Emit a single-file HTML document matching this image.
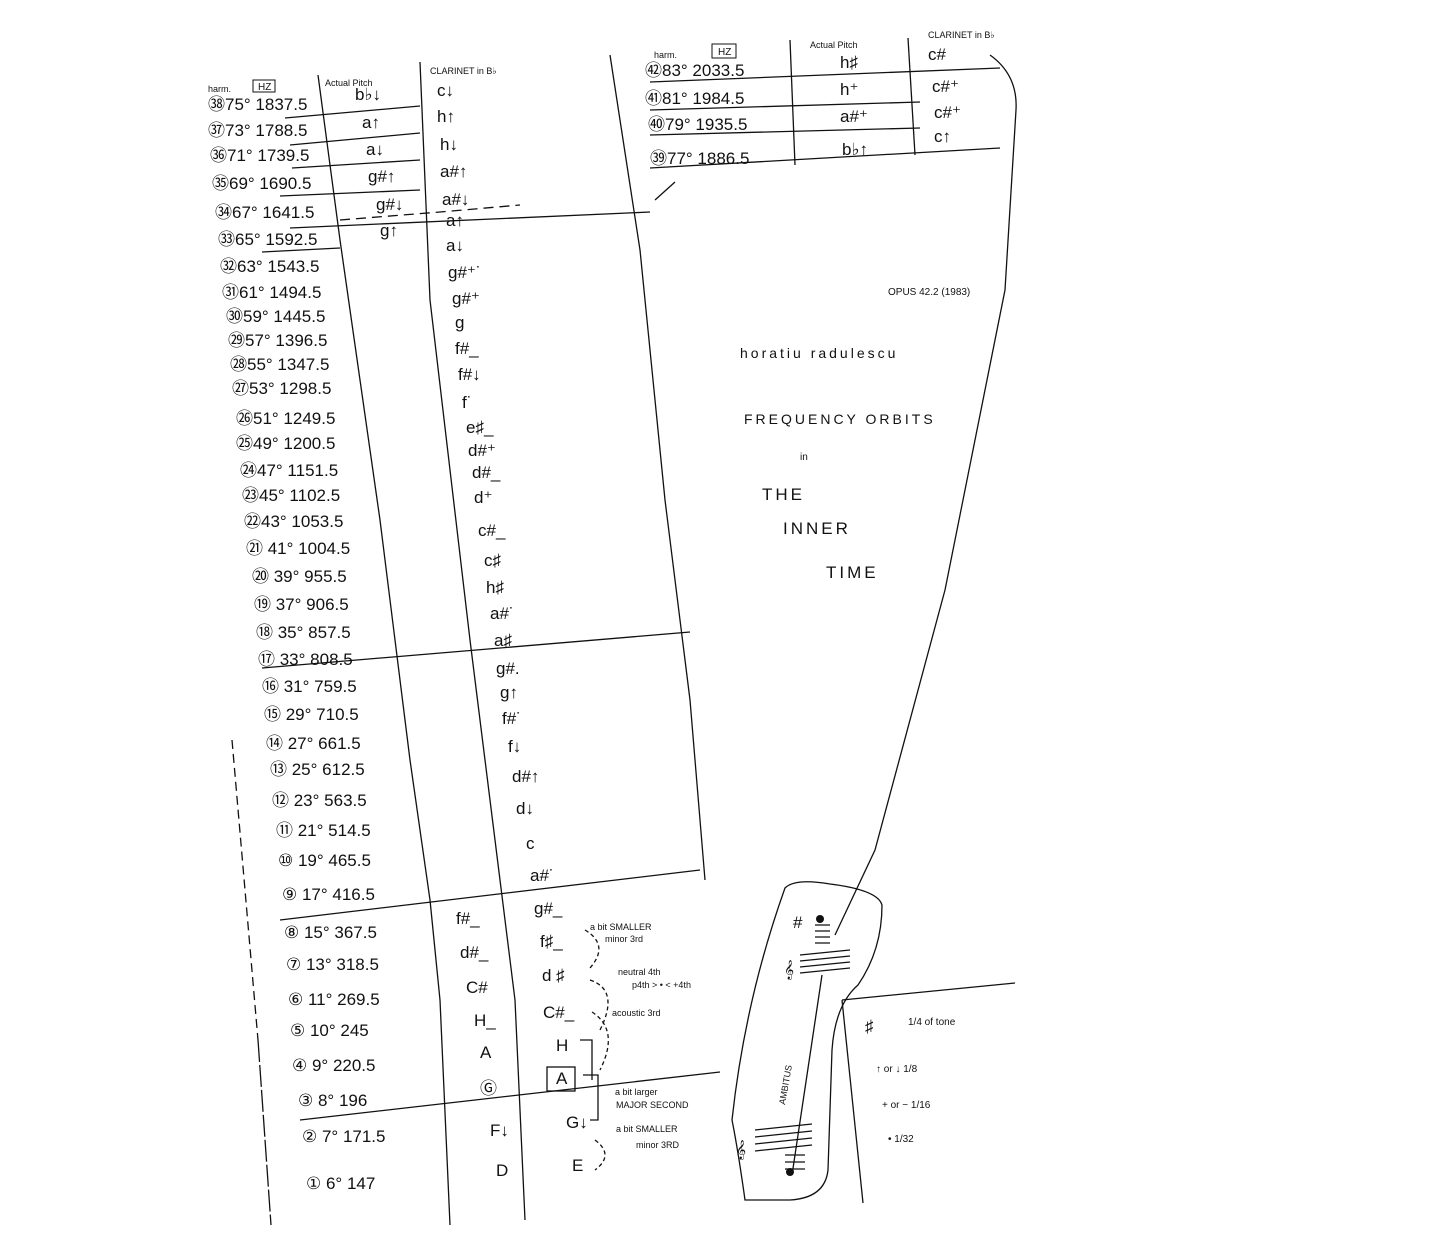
<!DOCTYPE html>
<html><head><meta charset="utf-8"><style>
html,body{margin:0;padding:0;background:#fff}
svg{display:block}
text{font-family:"Liberation Sans",sans-serif;fill:#111}
.n{font-size:17px}
.s{font-size:10px}
.h{font-size:9px}
.t{font-size:17px;letter-spacing:3px}
</style></head><body>
<svg width="1440" height="1252" viewBox="0 0 1440 1252" xmlns="http://www.w3.org/2000/svg">
<g fill="none" stroke="#111" stroke-width="1.3">
<!-- left outer dashed line -->
<path d="M232 740 L258 1040" stroke-dasharray="9,5"/>
<path d="M258 1040 L271 1225" stroke-dasharray="22,3"/>
<path d="M318 75 L340 240 L380 520 L410 760 L430 900 L440 1000 L450 1225"/>
<path d="M420 62 L430 300 L470 640 L500 880 L515 1000 L525 1220"/>
<path d="M610 55 L640 250 L665 500 L690 700 L705 880"/>
<!-- row lines top -->
<path d="M285 118 L420 106"/><path d="M290 145 L420 133"/><path d="M292 168 L420 160"/>
<path d="M280 196 L420 190"/><path d="M340 220 L440 212 L520 205" stroke-dasharray="10,6"/>
<path d="M290 228 L650 212"/><path d="M262 252 L340 248"/>
<path d="M262 668 L690 632"/><path d="M280 920 L700 870"/>
<path d="M300 1120 L720 1072"/>
<!-- right top table -->
<path d="M650 82 L1000 68"/><path d="M650 110 L920 102"/><path d="M650 135 L920 128"/><path d="M650 168 L1000 148"/>
<path d="M790 40 L795 165"/><path d="M908 38 L915 155"/>
<path d="M655 200 L675 182"/>
<path d="M990 55 Q1018 75 1016 110 L1005 290 L945 590 L875 850 L835 935"/>
<!-- dashed connectors -->
<path d="M585 930 Q610 945 590 968" stroke-dasharray="4,3"/>
<path d="M590 980 Q620 990 600 1030" stroke-dasharray="4,3"/>
<path d="M592 1012 Q620 1030 600 1070" stroke-dasharray="4,3"/>
<path d="M595 1140 Q615 1155 595 1170" stroke-dasharray="4,3"/>
<rect x="547" y="1067" width="28" height="24"/>
<path d="M580 1040 L592 1040 L592 1080"/><path d="M583 1075 L598 1075 L598 1120 L590 1120"/>
<!-- ambitus shape -->
<path d="M785 888 Q795 878 830 884 Q878 890 882 905 Q882 950 858 985 Q835 1005 832 1050 Q830 1110 828 1170 Q825 1198 790 1200 L745 1200 Q738 1150 732 1120 Q745 1000 785 888 Z"/>
<path d="M800 955 L850 950 M800 961 L850 956 M800 967 L850 962 M800 973 L850 968"/>
<path d="M755 1130 L812 1124 M755 1137 L812 1131 M755 1144 L812 1138 M755 1151 L812 1145"/>
<path d="M822 975 L792 1175"/>
<path d="M815 925 L830 925 M815 931 L830 931 M815 937 L830 937 M815 943 L830 943"/>
<path d="M785 1155 L805 1155 M785 1162 L805 1162 M785 1169 L805 1169"/>
<!-- legend box -->
<path d="M842 1000 L1015 983 M842 1000 L863 1203"/>
</g>
<g>
<text x="208" y="92" class="h">harm.</text><text x="258" y="90" class="s">HZ</text><rect x="253" y="80" width="22" height="12" fill="none" stroke="#111"/>
<text x="325" y="86" class="h">Actual Pitch</text><text x="430" y="74" class="h">CLARINET in B♭</text>
<text x="654" y="58" class="h">harm.</text><text x="718" y="55" class="s">HZ</text><rect x="712" y="44" width="24" height="14" fill="none" stroke="#111"/>
<text x="810" y="48" class="h">Actual Pitch</text><text x="928" y="38" class="h">CLARINET in B♭</text>
</g>
<g class="n">
<text x="208" y="110">㊳75° 1837.5</text><text x="355" y="100">b♭↓</text><text x="437" y="96">c↓</text>
<text x="208" y="136">㊲73° 1788.5</text><text x="362" y="128">a↑</text><text x="437" y="122">h↑</text>
<text x="210" y="161">㊱71° 1739.5</text><text x="366" y="155">a↓</text><text x="440" y="150">h↓</text>
<text x="212" y="189">㉟69° 1690.5</text><text x="368" y="182">g#↑</text><text x="440" y="177">a#↑</text>
<text x="215" y="218">㉞67° 1641.5</text><text x="376" y="210">g#↓</text><text x="442" y="205">a#↓</text>
<text x="218" y="245">㉝65° 1592.5</text><text x="380" y="236">g↑</text><text x="446" y="226">a↑</text>
<text x="220" y="272">㉜63° 1543.5</text><text x="446" y="251">a↓</text>
<text x="222" y="298">㉛61° 1494.5</text><text x="448" y="278">g#⁺˙</text>
<text x="226" y="322">㉚59° 1445.5</text><text x="452" y="304">g#⁺</text>
<text x="228" y="346">㉙57° 1396.5</text><text x="455" y="328">g</text>
<text x="230" y="370">㉘55° 1347.5</text><text x="455" y="354">f#_</text>
<text x="232" y="394">㉗53° 1298.5</text><text x="458" y="380">f#↓</text>
<text x="236" y="424">㉖51° 1249.5</text><text x="462" y="408">f˙</text>
<text x="236" y="449">㉕49° 1200.5</text><text x="466" y="433">e♯_</text>
<text x="240" y="476">㉔47° 1151.5</text><text x="468" y="456">d#⁺</text>
<text x="242" y="501">㉓45° 1102.5</text><text x="472" y="478">d#_</text>
<text x="244" y="527">㉒43° 1053.5</text><text x="474" y="503">d⁺</text>
<text x="246" y="554">㉑ 41° 1004.5</text><text x="478" y="536">c#_</text>
<text x="252" y="582">⑳ 39° 955.5</text><text x="484" y="566">c♯</text>
<text x="254" y="610">⑲ 37° 906.5</text><text x="486" y="593">h♯</text>
<text x="256" y="638">⑱ 35° 857.5</text><text x="490" y="619">a#˙</text>
<text x="258" y="665">⑰ 33° 808.5</text><text x="494" y="646">a♯</text>
<text x="262" y="692">⑯ 31° 759.5</text><text x="496" y="674">g#.</text>
<text x="264" y="720">⑮ 29° 710.5</text><text x="500" y="698">g↑</text>
<text x="266" y="749">⑭ 27° 661.5</text><text x="502" y="724">f#˙</text>
<text x="270" y="775">⑬ 25° 612.5</text><text x="508" y="752">f↓</text>
<text x="272" y="806">⑫ 23° 563.5</text><text x="512" y="782">d#↑</text>
<text x="276" y="836">⑪ 21° 514.5</text><text x="516" y="814">d↓</text>
<text x="278" y="866">⑩ 19° 465.5</text><text x="526" y="849">c</text>
<text x="282" y="900">⑨ 17° 416.5</text><text x="530" y="881">a#˙</text>
<text x="284" y="938">⑧ 15° 367.5</text><text x="456" y="924">f#_</text><text x="534" y="914">g#_</text>
<text x="286" y="970">⑦ 13° 318.5</text><text x="460" y="958">d#_</text><text x="540" y="947">f♯_</text>
<text x="288" y="1005">⑥ 11° 269.5</text><text x="466" y="993">C#</text><text x="542" y="981">d ♯</text>
<text x="290" y="1036">⑤ 10° 245</text><text x="474" y="1026">H_</text><text x="543" y="1018">C#_</text>
<text x="292" y="1071">④ 9° 220.5</text><text x="480" y="1058">A</text><text x="556" y="1051">H</text>
<text x="298" y="1106">③ 8° 196</text><text x="480" y="1094">Ⓖ</text><text x="556" y="1084">A</text>
<text x="302" y="1142">② 7° 171.5</text><text x="490" y="1136">F↓</text><text x="566" y="1128">G↓</text>
<text x="306" y="1189">① 6° 147</text><text x="496" y="1176">D</text><text x="572" y="1171">E</text>
<text x="645" y="76">㊷83° 2033.5</text><text x="840" y="68">h♯</text><text x="928" y="60">c#</text>
<text x="645" y="104">㊶81° 1984.5</text><text x="840" y="95">h⁺</text><text x="932" y="92">c#⁺</text>
<text x="648" y="130">㊵79° 1935.5</text><text x="840" y="122">a#⁺</text><text x="934" y="118">c#⁺</text>
<text x="650" y="164">㊴77° 1886.5</text><text x="842" y="155">b♭↑</text><text x="934" y="142">c↑</text>
</g>
<g class="h">
<text x="590" y="930">a bit SMALLER</text><text x="605" y="942">minor 3rd</text>
<text x="618" y="975">neutral 4th</text><text x="632" y="988">p4th &gt; • &lt; +4th</text>
<text x="612" y="1016">acoustic 3rd</text>
<text x="615" y="1095">a bit larger</text><text x="616" y="1108">MAJOR SECOND</text>
<text x="616" y="1132">a bit SMALLER</text><text x="636" y="1148">minor 3RD</text>
</g>
<text x="888" y="295" class="s">OPUS 42.2 (1983)</text>
<text x="740" y="358" class="t" style="font-size:14px">horatiu radulescu</text>
<text x="744" y="424" class="t" style="font-size:14px">FREQUENCY ORBITS</text>
<text x="800" y="460" class="s">in</text>
<text x="762" y="500" class="t">THE</text>
<text x="783" y="534" class="t">INNER</text>
<text x="826" y="578" class="t">TIME</text>
<text x="793" y="928" class="n">#</text><circle cx="820" cy="919" r="4" fill="#111"/>
<text x="784" y="975" class="n">𝄞</text><text x="736" y="1155" class="n">𝄞</text>
<circle cx="790" cy="1172" r="4" fill="#111"/>
<text x="785" y="1105" class="h" transform="rotate(-80 785 1105)">AMBITUS</text>
<g class="n">
<text x="865" y="1032">♯</text><text x="908" y="1025" class="s">1/4 of tone</text>
<text x="876" y="1072" class="s">↑ or ↓  1/8</text>
<text x="882" y="1108" class="s">+ or −  1/16</text>
<text x="888" y="1142" class="s">•   1/32</text>
</g>
</svg>
</body></html>
